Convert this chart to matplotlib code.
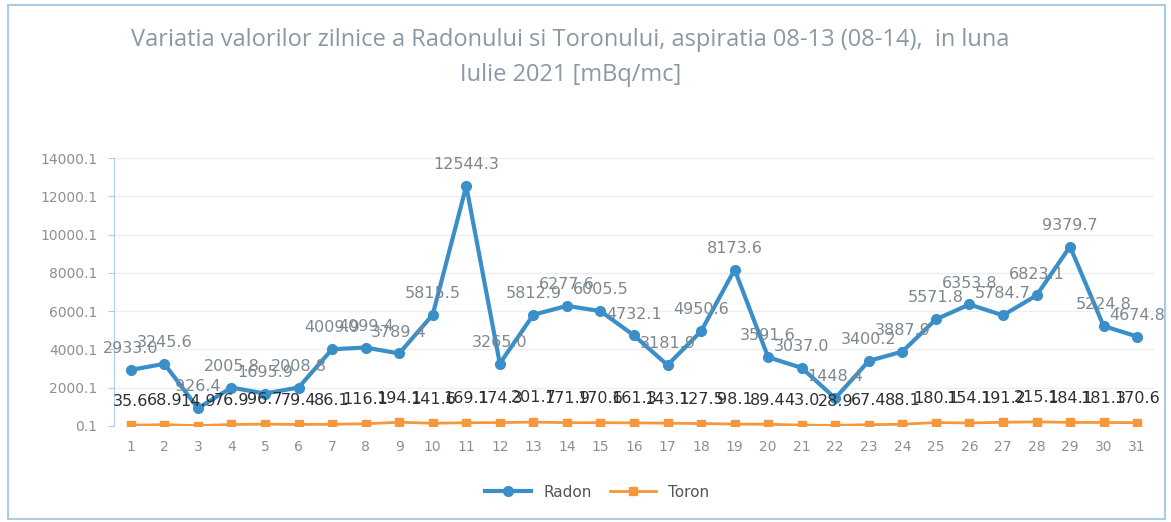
import matplotlib
matplotlib.use('Agg')
import matplotlib.pyplot as plt
from matplotlib.patches import Rectangle

# Daily values, July 2021 [mBq/mc]
days = list(range(1, 32))
radon = [2933.0, 3245.6, 926.4, 2005.8, 1695.9, 2008.8, 4009.9, 4099.4, 3789.4, 5815.5,
         12544.3, 3265.0, 5812.9, 6277.6, 6005.5, 4732.1, 3181.9, 4950.6, 8173.6, 3591.6,
         3037.0, 1448.4, 3400.2, 3887.9, 5571.8, 6353.8, 5784.7, 6823.1, 9379.7, 5224.8,
         4674.8]
toron = [35.6, 68.9, 14.9, 76.9, 96.7, 79.4, 86.1, 116.1, 194.1, 141.6,
         169.1, 174.3, 201.7, 171.9, 170.6, 161.3, 143.1, 127.5, 98.1, 89.4,
         43.0, 28.9, 67.4, 88.1, 180.1, 154.1, 191.2, 215.1, 184.1, 181.3,
         170.6]
yticks = [0.1, 2000.1, 4000.1, 6000.1, 8000.1, 10000.1, 12000.1, 14000.1]

radon_color = '#3a8fc8'
toron_color = '#f5973a'
grey = '#8a9096'

fig = plt.figure(figsize=(11.71, 5.22), dpi=100)
ax = fig.add_axes([0.0974, 0.184, 0.888, 0.513])

# light blue frame around the chart
fig.patches.append(Rectangle((0.007, 0.005), 0.988, 0.985, transform=fig.transFigure,
                             fill=False, edgecolor='#a9cde6', linewidth=1.5))

ax.plot(days, radon, color=radon_color, linewidth=3, marker='o', markersize=7,
        label='Radon', zorder=3)
ax.plot(days, toron, color=toron_color, linewidth=2, marker='s', markersize=6,
        label='Toron', zorder=3)

for d, v in zip(days, radon):
    ax.annotate(f'{v:.1f}', (d, v), xytext=(0, 10), textcoords='offset points',
                ha='center', va='bottom', fontsize=11.5, color='#7d8790')
for d, v in zip(days, toron):
    ax.annotate(f'{v:.1f}', (d, v), xytext=(0, 12), textcoords='offset points',
                ha='center', va='bottom', fontsize=11.5, color='#2b3035')

ax.set_xlim(0.5, 31.5)
ax.set_ylim(0.1, 14000.1)
ax.set_xticks(days)
ax.set_xticklabels([str(d) for d in days])
ax.set_yticks(yticks)
ax.set_yticklabels([f'{t:.1f}' for t in yticks])
ax.tick_params(axis='both', colors=grey, labelsize=10, length=0)
ax.tick_params(axis='y', length=4, color='#a9cde6', pad=8)
ax.tick_params(axis='x', pad=10)
ax.yaxis.grid(True, color='#eeeeee', linewidth=1)
ax.set_axisbelow(True)
for s in ['top', 'right', 'bottom']:
    ax.spines[s].set_visible(False)
ax.spines['left'].set_color('#a9cde6')

title_color = '#8a98a4'
fig.text(0.487, 0.923, 'Variatia valorilor zilnice a Radonului si Toronului, aspiratia 08-13 (08-14),  in luna',
         ha='center', va='center', fontsize=17, color=title_color, family='Open Sans')
fig.text(0.487, 0.856, 'Iulie 2021 [mBq/mc]', ha='center', va='center', fontsize=17,
         color=title_color, family='Open Sans')

fig.legend(loc='center', bbox_to_anchor=(0.51, 0.057), ncol=2, frameon=False,
           fontsize=11, labelcolor='#555555', handlelength=3, columnspacing=1.2)

fig.savefig('out.png', dpi=100)
